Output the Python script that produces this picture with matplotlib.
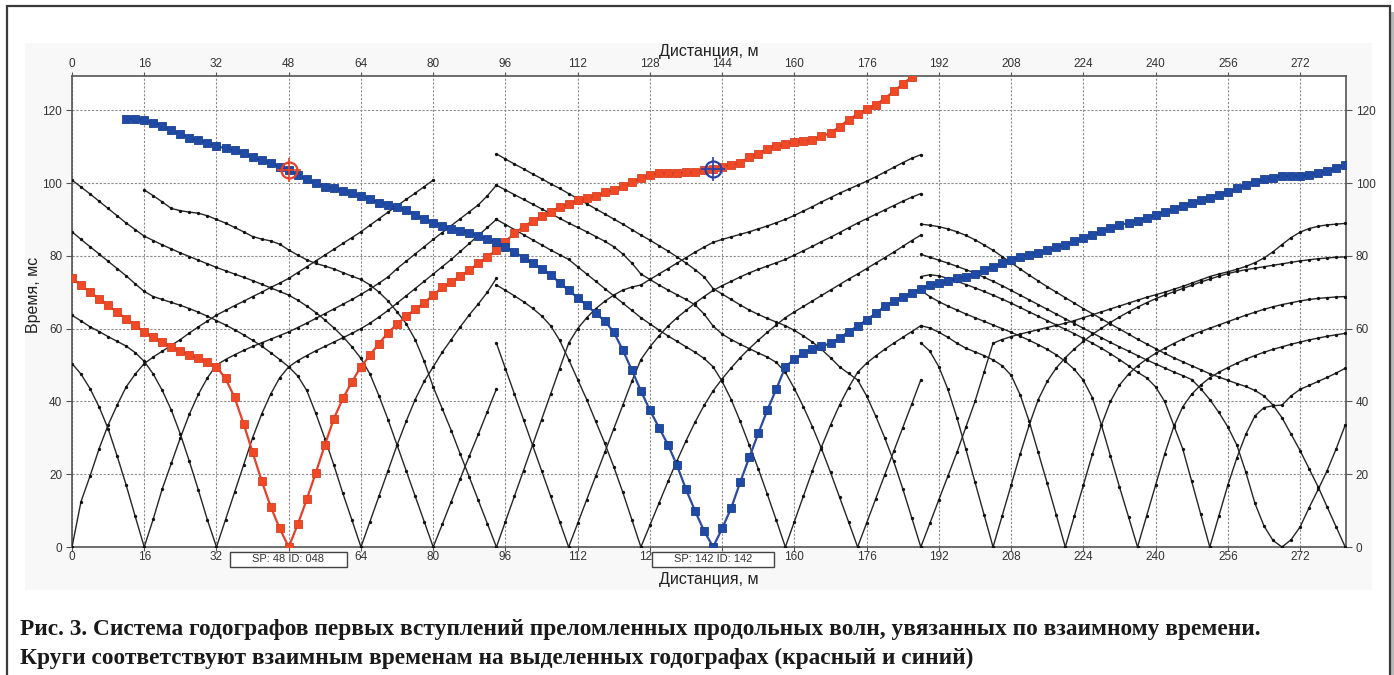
import matplotlib
matplotlib.use("Agg")
import matplotlib.pyplot as plt
import matplotlib.transforms as mtransforms
from matplotlib.patches import Rectangle

# ---------------------------------------------------------------
# First-arrival traveltimes (ms); receivers every 2 m.
# Each branch: (first receiver position, m) + picked times.
# ---------------------------------------------------------------
STEP = 2

# spread 0..94 m
s000_right = (0, [0, 12.5, 19.5, 27, 33.5, 39, 44, 47.5, 50.4, 52.2, 53.8, 55.4, 57, 58.8, 60.5, 62.1,
                  63.7, 65, 66.3, 67.5, 68.8, 70, 71.3, 72.5, 73.8, 75.4, 77, 78.6, 80.2, 81.8, 83.4, 85,
                  86.6, 88.4, 90.2, 92, 93.7, 95.5, 97.2, 99, 100.8])
s016_left = (0, [50.4, 47.5, 43.5, 38.5, 32.5, 25, 17, 8.4, 0])
s016_right = (16, [0, 7.7, 16, 23, 30, 36.5, 42, 46.5, 50, 51.5, 52.8, 54, 55.1, 56.1, 57.1, 58.1,
                   59.1, 60.3, 61.5, 62.8, 64.1, 65.4, 66.7, 68, 69.4, 70.9, 72.5, 74.2, 76.5, 78.5,
                   80.5, 82.5, 84.5, 86.4, 88.3, 90.2, 92.1, 94, 96.5, 99.4])
s032_left = (0, [63.7, 62.1, 60.5, 59.2, 57.8, 56.5, 55.2, 53.4, 51, 47.5, 43, 37.6, 31, 23.5, 15.6, 7.4, 0])
s032_right = (32, [0, 7.5, 15, 22.5, 30, 36.5, 42, 46.5, 49.5, 51.2, 52.6, 53.9, 55.1, 56.3, 57.5,
                   58.7, 60, 61.5, 63.2, 65, 67, 69, 71, 73, 75, 77, 79, 81.2, 83.4, 85.6, 87.8, 90])
s064_left = (0, [86.6, 84.5, 82.5, 80.5, 78.5, 76.5, 74.5, 72.3, 70.2, 68.8, 68, 67.2, 66.4, 65.5, 64.5,
                 63.4, 62.2, 61, 59.7, 58.3, 56.8, 55.2, 53.4, 51.5, 49.5, 47, 43, 36.7, 29.8, 22.5,
                 14.7, 7.4, 0])
s064_right = (64, [0, 7, 14, 21, 28, 34.5, 40.5, 45.5, 49.5, 53.5, 57, 60.5, 63.8, 66.8, 70, 73.8])
s080_left = (0, [100.8, 98.9, 97, 95, 93, 91, 89, 87.2, 85.4, 84.2, 83, 81.9, 80.8, 79.8, 78.8, 77.8,
                 76.8, 75.9, 75, 74.1, 73.2, 72.2, 71.2, 70.2, 69.2, 67.8, 66.2, 64.4, 62.4, 60.2,
                 57.8, 55, 51.8, 47.5, 41.5, 35, 28, 21, 14, 7, 0])
s080_right = (80, [0, 6.2, 12.5, 18.8, 25, 31, 37.2, 43.4])
s094_left = (16, [98.1, 96.5, 94.8, 93, 92.4, 92, 91.7, 91, 90, 89, 87.8, 86.6, 85.3, 84.6, 84.1,
                  83.2, 81.6, 80.2, 78.9, 77.9, 77.2, 76.4, 75.4, 74.4, 73.5, 72, 70, 67.6, 64.6,
                  61.4, 57, 51, 44, 38, 32, 25.5, 19.2, 12.8, 6.4, 0])

# spread 94..188 m
s094_right = (94, [0, 7, 14, 21, 28, 35, 42, 49, 56, 60, 63, 65.5, 67.5, 69.2, 70.6, 71.4, 72, 73.5,
                   75, 76.5, 78, 79.5, 81, 82.4, 83.7, 84.5, 85.2, 85.9, 86.6, 87.4, 88.2, 89.1, 90,
                   91.1, 92.3, 93.5, 94.8, 96, 97.2, 98.3, 99.4, 100.5, 101.7, 103, 104.3, 105.6,
                   106.8, 107.8])
s110_left = (94, [56, 49, 42, 35, 28, 21, 14, 7, 0])
s110_right = (110, [0, 6.5, 13, 19.5, 26, 32.5, 39, 45.5, 51.5, 55, 58, 60.7, 63, 65, 67, 68.8, 70.5,
                    71.8, 73, 74.2, 75.3, 76.3, 77.2, 78.1, 79, 80.2, 81.4, 82.6, 83.9, 85.1, 86.4,
                    87.7, 89, 90.2, 91.4, 92.6, 93.8, 95, 96.1, 97.1])
s126_left = (94, [72, 70.5, 69, 67.4, 65.6, 63.5, 60.8, 56.8, 51.5, 46, 40.5, 34.5, 28.5, 22, 15, 7.5, 0])
s126_right = (126, [0, 6, 12, 18, 23.7, 29.2, 34.3, 38.9, 42.9, 46.2, 49.2, 52, 54.5, 56.8, 59, 61,
                    63, 64.6, 66.1, 67.6, 69.1, 70.6, 72.1, 73.6, 75, 76.5, 78, 79.5, 81, 82.6,
                    84.2, 85.7])
s158_left = (94, [90, 88.6, 87.2, 85.8, 84.4, 83, 81.6, 80.3, 79, 77, 75, 73, 71, 69, 67, 65, 63, 61.3,
                  59.6, 58, 56.5, 55, 53.5, 51.8, 49.5, 45.5, 40.5, 34.5, 28, 21.5, 14.5, 7.3, 0])
s158_right = (158, [0, 7, 14, 21, 27.5, 33.5, 39, 43.8, 48, 50.5, 52.5, 54.3, 56, 57.6, 59.2, 60.8])
s174_left = (94, [99.4, 98.1, 96.8, 95.5, 94.2, 92.9, 91.6, 90.3, 89, 87.8, 86.6, 85.3, 84, 82.5,
                  80.5, 78, 75, 73.5, 72, 70.6, 69.3, 68, 66.5, 64, 60.7, 58.5, 57, 55.7, 54.5, 53.3,
                  52.2, 50.7, 48, 43.5, 38.5, 33, 27, 20.5, 13.7, 6.9, 0])
s174_right = (174, [0, 6.6, 13.2, 19.8, 26.3, 32.8, 39.3, 45.9])
s188_left = (94, [108, 106.6, 105.2, 103.9, 102.5, 101.2, 99.8, 98.5, 97.1, 95.7, 94.3, 92.9, 91.5,
                  90.1, 88.7, 87.2, 85.7, 84.3, 82.8, 81.3, 79.7, 78, 76.2, 74.2, 71, 69.5, 68, 66.5,
                  65.1, 63.9, 62.8, 61.8, 60.8, 59.5, 58, 56.3, 54.3, 52, 49.5, 47.7, 45.9, 41.5,
                  36, 30, 23.5, 16, 8, 0])

# spread 188..282 m
s188_right = (188, [0, 6.5, 13, 19.5, 26, 33, 40, 48, 56, 57, 57.8, 58.5, 59.1, 59.7, 60.3, 60.9,
                    61.5, 62.2, 63, 63.8, 64.6, 65.4, 66.2, 67, 67.8, 68.6, 69.3, 70, 70.8, 71.6,
                    72.5, 73.4, 74.3, 75, 75.6, 76.3, 77.1, 78.1, 79.4, 81.1, 83.1, 85, 86.5, 87.5,
                    88.1, 88.5, 88.7, 88.9])
s204_left = (188, [56.1, 53.8, 49.5, 43.3, 35.5, 26.8, 17.8, 8.9, 0])
s204_right = (204, [0, 8.5, 17, 25.5, 33.5, 40.5, 45.5, 49.2, 52, 54.4, 56.5, 58.4, 60.1, 61.7, 63.2,
                    64.6, 65.9, 67.1, 68.2, 69.2, 70.1, 71, 71.9, 72.8, 73.6, 74.4, 75.1, 75.7,
                    76.2, 76.6, 77, 77.4, 77.8, 78.2, 78.6, 78.9, 79.2, 79.4, 79.6, 79.7])
s220_left = (188, [60.8, 60.2, 59, 57.6, 56, 54.6, 53.6, 52.6, 51.4, 49.8, 47.2, 41.8, 34.5, 26, 17.5,
                   8.8, 0])
s220_right = (220, [0, 8.5, 17, 25.5, 33.5, 40, 44.5, 47.5, 49.8, 51.6, 53.2, 54.6, 55.9, 57.1, 58.2,
                    59.2, 60.1, 61, 61.9, 62.8, 63.7, 64.5, 65.3, 66, 66.6, 67.1, 67.6, 68, 68.3,
                    68.5, 68.7, 68.8])
s236_left = (188, [70.5, 68.8, 67.4, 66.2, 65.1, 64, 63, 62, 61, 60, 59, 57.9, 56.8, 55.6, 54.3, 52.8,
                   51, 48.8, 45.8, 41, 33.5, 25, 16.5, 8.3, 0])
s236_right = (236, [0, 8.5, 17, 25.5, 33, 38.5, 42, 44.5, 46.5, 48, 49.3, 50.5, 51.6, 52.6, 53.5,
                    54.3, 55, 55.7, 56.3, 56.9, 57.4, 57.9, 58.3, 58.7])
s252_left = (188, [74.3, 74.8, 74.5, 73.8, 73.0, 72.1, 71.2, 70.2, 69.2, 68.1, 67.0, 65.8, 64.6, 63.4,
                   62.2, 61.0, 59.8, 58.6, 57.3, 56.0, 54.6, 53.1, 51.5, 49.8, 48.0, 46.5, 44, 40,
                   33.5, 27, 18, 9, 0])
s252_right = (252, [0, 8.5, 17, 24.5, 31, 36, 38.3, 38.8, 39, 41.5, 43.3, 44.4, 45.5, 46.6, 47.8, 49.1])
s268_left = (188, [80.4, 79.6, 78.8, 78, 77.1, 76.2, 75.2, 74.1, 73, 71.8, 70.5, 69.2, 67.9, 66.6,
                   65.3, 64, 62.7, 61.4, 60.1, 58.8, 57.5, 56.2, 55, 53.8, 52.6, 51.4, 50.3, 49.2,
                   48.1, 47.1, 46, 43.5, 40.5, 37, 33, 28, 20.5, 12, 5.8, 1.8, 0])
s268_right = (268, [0, 2, 5.5, 10.8, 15.8, 21, 27, 33.5])
s282_left = (188, [88.7, 88.4, 88, 87.4, 86.6, 85.6, 84.4, 83, 81.5, 79.8, 78.1, 76.4, 74.7, 73.1,
                   71.5, 70, 68.5, 67, 65.5, 64.1, 62.7, 61.3, 59.9, 58.5, 57.1, 55.8, 54.5, 53.2,
                   52, 50.9, 49.8, 48.7, 47.6, 46.7, 45.8, 44.9, 44.1, 43, 41.5, 39, 35.5, 31, 26.5,
                   21.5, 16.5, 11, 5.5, 0])

black_branches = [s000_right, s016_left, s016_right, s032_left, s032_right, s064_left, s064_right,
                  s080_left, s080_right, s094_left, s094_right, s110_left, s110_right, s126_left,
                  s126_right, s158_left, s158_right, s174_left, s174_right, s188_left, s188_right,
                  s204_left, s204_right, s220_left, s220_right, s236_left, s236_right, s252_left,
                  s252_right, s268_left, s268_right, s282_left]

# highlighted hodographs, linked by reciprocal time
red_start = 0          # shot at 48 m
red_times = [73.8, 71.9, 70.0, 68.2, 66.4, 64.5, 62.7, 60.9, 59.1, 57.6, 56.3, 55.0, 53.9, 52.8, 51.8,
             50.7, 49.5, 46.3, 41.1, 33.9, 26.0, 18.2, 11.1, 5.1, 0, 6.2, 13.1, 20.4, 28.0, 35.3, 40.8,
             45.4, 49.5, 52.7, 55.9, 58.9, 61.2, 63.4, 65.3, 67.1, 69.2, 71.3, 72.9, 74.4, 76.1, 77.9,
             79.7, 81.6, 83.9, 86.2, 88.0, 89.5, 90.8, 92.1, 93.4, 94.3, 95.2, 95.8, 96.5, 97.4, 98.1,
             99.1, 100.2, 101.3, 102.2, 102.7, 102.7, 102.7, 102.9, 103.1, 103.6, 103.9, 104.5, 105.0,
             105.6, 107.1, 108.1, 109.4, 110.2, 110.7, 111.3, 111.5, 111.9, 112.8, 113.7, 115.5,
             117.4, 118.9, 120.3, 121.5, 123.2, 125.2, 127.2, 129.2]
blue_start = 12        # shot at 142 m
blue_times = [117.6, 117.6, 117.3, 116.6, 115.7, 114.5, 113.4, 112.5, 111.7, 111.0, 110.2, 109.5,
              109.0, 108.2, 107.1, 106.2, 105.4, 104.5, 103.6, 102.1, 101.0, 99.9, 99.0, 98.5, 97.8,
              97.2, 96.3, 95.5, 94.6, 94.0, 93.3, 92.5, 91.3, 90.0, 89.1, 88.3, 87.5, 86.9, 86.3,
              85.4, 84.5, 83.7, 82.4, 81.0, 79.5, 78.0, 76.4, 74.8, 72.6, 70.5, 68.5, 66.4, 64.2,
              62.1, 59.0, 54.1, 48.6, 42.9, 37.6, 32.8, 28.1, 22.4, 15.8, 9.9, 4.4, 0, 5.1, 10.7,
              17.8, 24.6, 31.2, 37.6, 43.4, 49.5, 51.6, 53.3, 54.4, 55.1, 56.0, 57.4, 59.1, 60.7,
              62.4, 64.2, 66.1, 67.5, 68.8, 69.7, 71.0, 71.9, 72.4, 73.1, 73.8, 74.2, 74.9, 76.1,
              77.0, 78.0, 78.9, 79.7, 80.3, 80.8, 81.5, 82.4, 83.0, 84.0, 84.9, 85.8, 86.7, 87.6,
              88.4, 89.1, 89.7, 90.4, 91.2, 92.1, 92.8, 93.6, 94.5, 95.3, 96.0, 96.8, 97.5, 98.6,
              99.5, 100.3, 101.0, 101.5, 101.9, 101.9, 101.9, 102.2, 102.7, 103.2, 104.1, 105.0]

# reciprocal-time points and shot labels
red_mark = (48, 103.6)
blue_mark = (142, 103.9)
shot_labels = ["SP: 48 ID: 048", "SP: 142 ID: 142"]
label_spans = [(35.0, 60.9), (128.5, 155.5)]

x_ticks = list(range(0, 273, 16))
y_ticks = list(range(0, 121, 20))

TICK_FONT = ["Liberation Sans Narrow", "Liberation Sans", "DejaVu Sans"]
LABEL_FONT = ["Liberation Sans", "DejaVu Sans"]


def positions(start, n):
    return [start + STEP * i for i in range(n)]


W, H = 1394, 675
fig = plt.figure(figsize=(W / 100, H / 100), dpi=100)
fig.patch.set_facecolor("white")

# page frame with a soft shadow on the right
fig.patches.append(Rectangle((1391 / W, 0), 3 / W, (H - 12) / H, transform=fig.transFigure,
                             facecolor="#b8b8b8", edgecolor="none", zorder=-3))
fig.patches.append(Rectangle((7 / W, -0.02), (1390 - 7) / W, 1 - 6 / H + 0.02,
                             transform=fig.transFigure, facecolor="none",
                             edgecolor="#3a3a3a", linewidth=1.6, zorder=-1))
# screenshot panel
fig.patches.append(Rectangle((25 / W, 1 - 590 / H), (1372 - 25) / W, (590 - 43) / H,
                             transform=fig.transFigure, facecolor="#f8f8f8",
                             edgecolor="none", zorder=-2))

x_max = 282.2
ax = fig.add_axes([72 / W, 1 - 547 / H, x_max * 4.515 / W, (547 - 76) / H])
ax.set_facecolor("white")
ax.set_xlim(0, x_max)
ax.set_ylim(0, 129.4)

ax.set_xticks(x_ticks)
ax.set_yticks(y_ticks)
ax.tick_params(axis="both", which="both", direction="out", width=0.8,
               color="#555555", labelsize=8.5, labelcolor="#333333")
ax.tick_params(axis="x", top=True, labeltop=True, labelbottom=False, length=3, pad=1)
ax.tick_params(axis="y", right=True, labelright=True, length=4, pad=3)
for lab in ax.get_xticklabels() + ax.get_yticklabels():
    lab.set_family(TICK_FONT)
for tk in ax.xaxis.get_major_ticks() + ax.yaxis.get_major_ticks():
    tk.label1.set_family(TICK_FONT)
    tk.label2.set_family(TICK_FONT)

trans = mtransforms.blended_transform_factory(ax.transData, ax.transAxes)

# bottom distance labels; the shot-point boxes sit over 48 and 144
hidden = {48, 144}
for xt in x_ticks:
    if xt in hidden:
        continue
    txt = "12" if xt == 128 else str(xt)
    ax.text(xt - (1.0 if xt == 128 else 0), -0.022, txt, transform=trans, ha="center", va="center",
            fontsize=8.5, color="#333333", family=TICK_FONT, clip_on=False)

ax.grid(True, color="#8c8c8c", linestyle=(0, (2.0, 1.5)), linewidth=0.8)
ax.set_axisbelow(True)
for sp in ax.spines.values():
    sp.set_color("#555555")
    sp.set_linewidth(1.2)

ax.text(0.5, -0.070, "Дистанция, м", transform=ax.transAxes, ha="center", va="center",
        fontsize=11.5, color="#222222", family=LABEL_FONT)
ax.text(0.5, 1.053, "Дистанция, м", transform=ax.transAxes, ha="center", va="center",
        fontsize=11.5, color="#222222", family=LABEL_FONT)
ax.text(-0.0306, 0.535, "Время, мс", transform=ax.transAxes, ha="center", va="center",
        rotation=90, fontsize=11.5, color="#222222", family=LABEL_FONT)

# ordinary hodographs
for start, times in black_branches:
    ax.plot(positions(start, len(times)), times, "-", color="#262626", linewidth=1.0,
            marker="o", markersize=2.4, markerfacecolor="#111111", markeredgecolor="none",
            zorder=3, clip_on=True)

# highlighted hodographs
ax.plot(positions(red_start, len(red_times)), red_times, "-", color="#e5412a", linewidth=1.6,
        marker="s", markersize=5.8, markerfacecolor="#ef4a25", markeredgecolor="#d83c20",
        markeredgewidth=0.6, zorder=5)
ax.plot(positions(blue_start, len(blue_times)), blue_times, "-", color="#2a4ba0", linewidth=1.6,
        marker="s", markersize=5.8, markerfacecolor="#1f4aa6", markeredgecolor="#1a3f90",
        markeredgewidth=0.6, zorder=5)

# reciprocal-time markers
for (mx, my), col in [(red_mark, "#e8402a"), (blue_mark, "#2a3fa8")]:
    ax.plot(mx, my, marker="+", markersize=17, markeredgewidth=1.2, color=col, zorder=6)
    ax.plot(mx, my, marker="o", markersize=11.5, markerfacecolor="none", markeredgecolor=col,
            markeredgewidth=1.6, zorder=7)

# shot-point labels under the axis
for text, (x0, x1) in zip(shot_labels, label_spans):
    ax.add_patch(Rectangle((x0, -0.0431), x1 - x0, 0.0331, transform=trans, facecolor="white",
                           edgecolor="#444444", linewidth=1.0, clip_on=False, zorder=10))
    ax.text((x0 + x1) / 2, -0.0265, text, transform=trans, ha="center", va="center",
            fontsize=8, color="#333333", family=LABEL_FONT, zorder=11, clip_on=False)

# caption
cap1 = ("Рис. 3. Система годографов первых вступлений преломленных продольных волн, "
        "увязанных по взаимному времени.")
cap2 = "Круги соответствуют взаимным временам на выделенных годографах (красный и синий)"
fig.text(20 / W, 1 - 635 / H, cap1, ha="left", va="baseline", fontsize=16.8,
         fontweight="bold", family="Liberation Serif", color="#1a1a1a")
fig.text(20 / W, 1 - 664 / H, cap2, ha="left", va="baseline", fontsize=16.8,
         fontweight="bold", family="Liberation Serif", color="#1a1a1a")

fig.savefig("out.png", dpi=100, facecolor="white")
